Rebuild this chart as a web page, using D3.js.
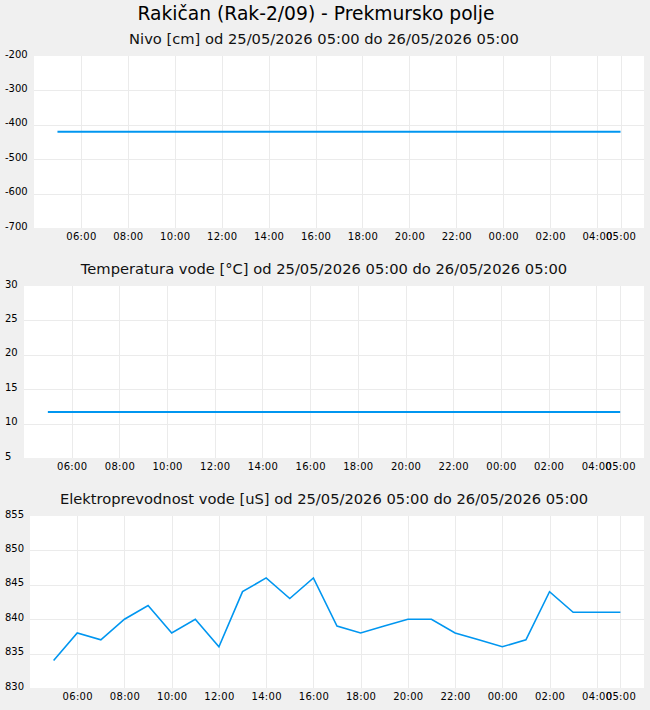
<!DOCTYPE html>
<html>
<head>
<meta charset="utf-8">
<script src="https://cdn.jsdelivr.net/npm/d3@7"></script>
<style>
  html, body { margin: 0; padding: 0; background: #f0f0f0; }
  svg { display: block; font-family: "DejaVu Sans", sans-serif; }
</style>
</head>
<body>
<svg id="chart" width="650" height="710"></svg>
<script>
// ---- data ----
const mainTitle = "Rakičan (Rak-2/09) - Prekmursko polje";
const titles = [
  "Nivo [cm] od 25/05/2026 05:00 do 26/05/2026 05:00",
  "Temperatura vode [°C] od 25/05/2026 05:00 do 26/05/2026 05:00",
  "Elektroprevodnost vode [uS] od 25/05/2026 05:00 do 26/05/2026 05:00"
];
const startTime = "2026-05-25T05:00:00";
const endTime = "2026-05-26T05:00:00";
const nivoValues = [-420, -420];
const nivoTimes = ["2026-05-25T05:00:00", "2026-05-26T05:00:00"];
const tempValues = [11.7, 11.7];
const tempTimes = ["2026-05-25T05:00:00", "2026-05-26T05:00:00"];
const condValues = [834, 838, 837, 840, 842, 838, 840, 836, 844, 846, 843, 846,
                    839, 838, 839, 840, 840, 838, 837, 836, 837, 844, 841, 841, 841];
const nivoTicks = [-200, -300, -400, -500, -600, -700];
const tempTicks = [30, 25, 20, 15, 10, 5];
const condTicks = [855, 850, 845, 840, 835, 830];
const nivoDomain = [-700, -200];
const tempDomain = [5, 30];
const condDomain = [830, 855];

// ---- build ----
const parse = d3.isoParse;
const t0 = parse(startTime), t1 = parse(endTime);
const condTimes = condValues.map((v, i) => d3.timeHour.offset(t0, i));
const xTicks = d3.timeHour.range(d3.timeHour.offset(t0, 1), t1, 2).concat([t1]);
const fmt = d3.timeFormat("%H:%M");

const svg = d3.select("#chart");
svg.append("text").attr("x", 316).attr("y", 20).attr("text-anchor", "middle")
  .attr("font-size", 18.7).attr("fill", "#000").text(mainTitle);

const panels = [
  { title: titles[0], titleY: 44, left: 34, top: 56, vals: nivoValues, times: nivoTimes.map(parse), ticks: nivoTicks, domain: nivoDomain, lw: 2 },
  { title: titles[1], titleY: 274, left: 24, top: 286, vals: tempValues, times: tempTimes.map(parse), ticks: tempTicks, domain: tempDomain, lw: 2 },
  { title: titles[2], titleY: 504, left: 30, top: 516, vals: condValues, times: condTimes, ticks: condTicks, domain: condDomain, lw: 1.6 }
];
const right = 644, h = 172;

panels.forEach(p => {
  const g = svg.append("g");
  g.append("text").attr("x", 324).attr("y", p.titleY).attr("text-anchor", "middle")
    .attr("font-size", 14.7).attr("fill", "#111").text(p.title);
  const x = d3.scaleTime()
    .domain([d3.timeHour.offset(t0, -1), d3.timeHour.offset(t1, 1)])
    .range([p.left, right]);
  const y = d3.scaleLinear().domain(p.domain).range([p.top + h, p.top]);
  g.append("rect").attr("x", p.left).attr("y", p.top).attr("width", right - p.left).attr("height", h).attr("fill", "#fff");
  // grid
  g.append("g").selectAll("line").data(xTicks).join("line")
    .attr("x1", d => Math.round(x(d)) + 0.5).attr("x2", d => Math.round(x(d)) + 0.5)
    .attr("y1", p.top).attr("y2", p.top + h).attr("stroke", "#ebebeb").attr("stroke-width", 1);
  g.append("g").selectAll("line").data(p.ticks.slice(1, -1)).join("line")
    .attr("y1", d => Math.round(y(d)) + 0.5).attr("y2", d => Math.round(y(d)) + 0.5)
    .attr("x1", p.left).attr("x2", right).attr("stroke", "#ebebeb").attr("stroke-width", 1);
  // x axis labels via d3 axis
  const xa = g.append("g").attr("transform", `translate(0,${p.top + h})`)
    .call(d3.axisBottom(x).tickValues(xTicks).tickFormat(fmt).tickSize(0).tickPadding(5));
  xa.select(".domain").remove();
  xa.selectAll("text").attr("font-size", 10).attr("font-family", "DejaVu Sans").attr("fill", "#000")
    .attr("letter-spacing", "0.3px");
  // y labels
  const ya = g.append("g").attr("transform", `translate(${5},0)`)
    .call(d3.axisRight(y).tickValues(p.ticks).tickFormat(d => String(d)).tickSize(0).tickPadding(0));
  ya.select(".domain").remove();
  ya.selectAll("text").attr("font-size", 10).attr("font-family", "DejaVu Sans").attr("fill", "#000")
    .attr("dy", "0.1em");
  // line
  const data = p.vals.map((v, i) => [p.times[i], v]);
  g.append("path").datum(data)
    .attr("d", d3.line().x(d => x(d[0])).y(d => y(d[1])))
    .attr("fill", "none").attr("stroke", "#0096f0").attr("stroke-width", p.lw);
});
</script>
</body>
</html>
